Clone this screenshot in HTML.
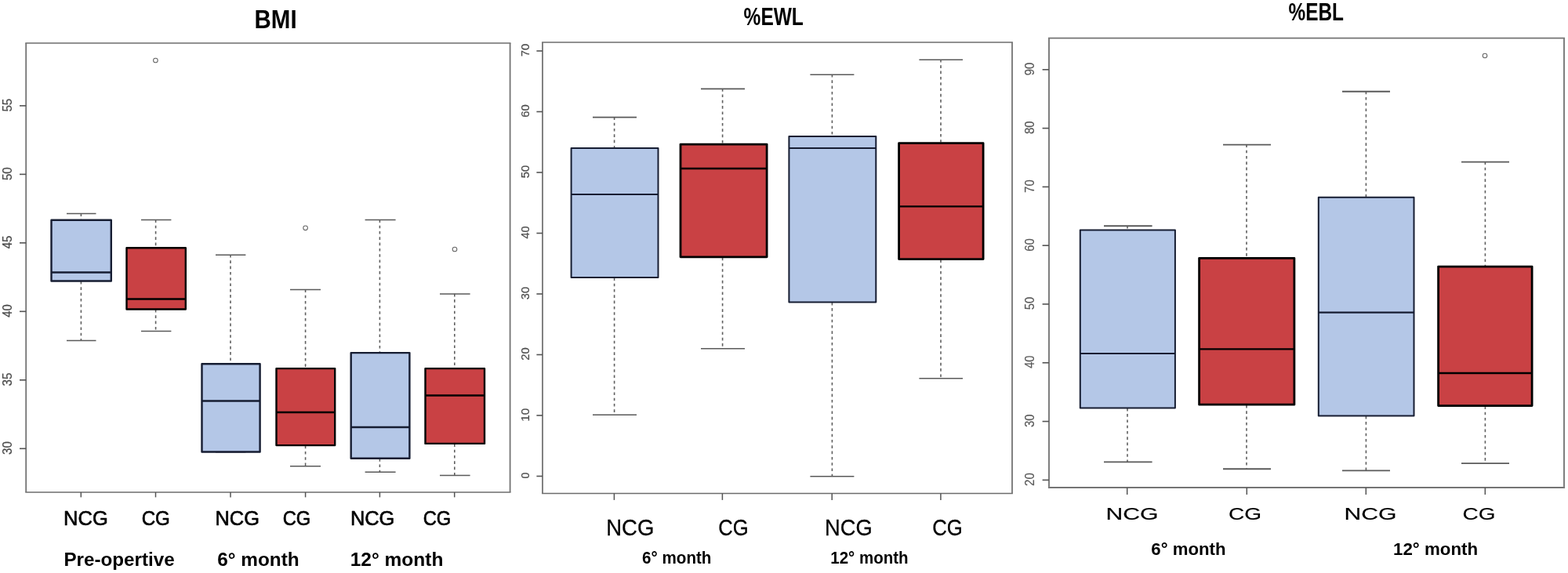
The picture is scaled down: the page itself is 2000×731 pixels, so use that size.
<!DOCTYPE html>
<html lang="en">
<head>
<meta charset="utf-8">
<title>BMI, %EWL and %EBL box plots</title>
<style>
html,body{margin:0;padding:0;background:#fff;}
body{width:2000px;height:731px;overflow:hidden;}
svg{display:block;font-family:"Liberation Sans",sans-serif;filter:blur(0.45px);}
</style>
</head>
<body>
<svg width="2000" height="731" viewBox="0 0 2000 731">
<rect width="2000" height="731" fill="#fff"/>
<line x1="32.30" y1="55.00" x2="651.50" y2="55.00" stroke="#6c6c6c" stroke-width="1.6"/>
<line x1="32.30" y1="628.00" x2="651.50" y2="628.00" stroke="#6c6c6c" stroke-width="1.6"/>
<line x1="33.20" y1="55.00" x2="33.20" y2="628.00" stroke="#747474" stroke-width="1.8"/>
<line x1="650.60" y1="55.00" x2="650.60" y2="628.00" stroke="#747474" stroke-width="1.8"/>
<line x1="25" y1="134.90" x2="33.2" y2="134.90" stroke="#545454" stroke-width="1.6"/>
<text transform="translate(15.00 134.20) rotate(-90) translate(-8.40 0) scale(1.0807 1.1200)" font-size="14" fill="#4a4a4a" stroke="#4a4a4a" stroke-width="0.2">55</text>
<line x1="25" y1="222.38" x2="33.2" y2="222.38" stroke="#545454" stroke-width="1.6"/>
<text transform="translate(15.00 221.68) rotate(-90) translate(-8.39 0) scale(1.0756 1.1200)" font-size="14" fill="#4a4a4a" stroke="#4a4a4a" stroke-width="0.2">50</text>
<line x1="25" y1="309.86" x2="33.2" y2="309.86" stroke="#545454" stroke-width="1.6"/>
<text transform="translate(15.00 309.16) rotate(-90) translate(-8.09 0) scale(1.0604 1.1200)" font-size="14" fill="#4a4a4a" stroke="#4a4a4a" stroke-width="0.2">45</text>
<line x1="25" y1="397.34" x2="33.2" y2="397.34" stroke="#545454" stroke-width="1.6"/>
<text transform="translate(15.00 396.64) rotate(-90) translate(-8.09 0) scale(1.0554 1.1200)" font-size="14" fill="#4a4a4a" stroke="#4a4a4a" stroke-width="0.2">40</text>
<line x1="25" y1="484.82" x2="33.2" y2="484.82" stroke="#545454" stroke-width="1.6"/>
<text transform="translate(15.00 484.12) rotate(-90) translate(-8.40 0) scale(1.0807 1.1200)" font-size="14" fill="#4a4a4a" stroke="#4a4a4a" stroke-width="0.2">35</text>
<line x1="25" y1="572.30" x2="33.2" y2="572.30" stroke="#545454" stroke-width="1.6"/>
<text transform="translate(15.00 571.60) rotate(-90) translate(-8.39 0) scale(1.0756 1.1200)" font-size="14" fill="#4a4a4a" stroke="#4a4a4a" stroke-width="0.2">30</text>
<line x1="103.30" y1="628" x2="103.30" y2="634.40" stroke="#545454" stroke-width="1.5"/>
<line x1="198.50" y1="628" x2="198.50" y2="634.40" stroke="#545454" stroke-width="1.5"/>
<line x1="294.00" y1="628" x2="294.00" y2="634.40" stroke="#545454" stroke-width="1.5"/>
<line x1="389.60" y1="628" x2="389.60" y2="634.40" stroke="#545454" stroke-width="1.5"/>
<line x1="484.40" y1="628" x2="484.40" y2="634.40" stroke="#545454" stroke-width="1.5"/>
<line x1="579.70" y1="628" x2="579.70" y2="634.40" stroke="#545454" stroke-width="1.5"/>
<line x1="103.4" y1="272.40" x2="103.4" y2="280.00" stroke="#606060" stroke-width="1.6" stroke-dasharray="3.6 3.7"/>
<line x1="103.4" y1="359.00" x2="103.4" y2="434.40" stroke="#606060" stroke-width="1.6" stroke-dasharray="3.6 3.7"/>
<line x1="85" y1="272.60" x2="122.5" y2="272.60" stroke="#5a5a5a" stroke-width="1.5"/>
<line x1="85" y1="434.60" x2="122.5" y2="434.60" stroke="#5a5a5a" stroke-width="1.5"/>
<rect x="65.50" y="280.70" width="76.30" height="77.80" fill="#b4c7e7" stroke="#161d32" stroke-width="2.4" stroke-linejoin="round"/>
<line x1="65.50" y1="347.60" x2="141.80" y2="347.60" stroke="#161d32" stroke-width="2.5"/>
<line x1="198.6" y1="280.40" x2="198.6" y2="315.60" stroke="#606060" stroke-width="1.6" stroke-dasharray="3.6 3.7"/>
<line x1="198.6" y1="395.00" x2="198.6" y2="422.40" stroke="#606060" stroke-width="1.6" stroke-dasharray="3.6 3.7"/>
<line x1="180" y1="280.60" x2="218.4" y2="280.60" stroke="#5a5a5a" stroke-width="1.5"/>
<line x1="180" y1="422.60" x2="218.4" y2="422.60" stroke="#5a5a5a" stroke-width="1.5"/>
<rect x="161.50" y="316.30" width="75.30" height="78.20" fill="#c94144" stroke="#000" stroke-width="2.4" stroke-linejoin="round"/>
<line x1="161.50" y1="381.60" x2="236.80" y2="381.60" stroke="#000" stroke-width="2.5"/>
<circle cx="198.4" cy="77" r="2.8" fill="#fff" stroke="#686868" stroke-width="1.1"/>
<line x1="294" y1="325.00" x2="294" y2="463.60" stroke="#606060" stroke-width="1.6" stroke-dasharray="3.6 3.7"/>
<line x1="294" y1="577.00" x2="294" y2="576.60" stroke="#606060" stroke-width="1.6" stroke-dasharray="3.6 3.7"/>
<line x1="275" y1="325.20" x2="313.4" y2="325.20" stroke="#5a5a5a" stroke-width="1.5"/>
<line x1="275" y1="576.80" x2="313.4" y2="576.80" stroke="#5a5a5a" stroke-width="1.5"/>
<rect x="257.50" y="464.30" width="74.10" height="112.20" fill="#b4c7e7" stroke="#161d32" stroke-width="2.4" stroke-linejoin="round"/>
<line x1="257.50" y1="511.40" x2="331.60" y2="511.40" stroke="#161d32" stroke-width="2.5"/>
<line x1="389.6" y1="369.40" x2="389.6" y2="469.40" stroke="#606060" stroke-width="1.6" stroke-dasharray="3.6 3.7"/>
<line x1="389.6" y1="568.60" x2="389.6" y2="594.60" stroke="#606060" stroke-width="1.6" stroke-dasharray="3.6 3.7"/>
<line x1="370" y1="369.60" x2="409" y2="369.60" stroke="#5a5a5a" stroke-width="1.5"/>
<line x1="370" y1="594.80" x2="409" y2="594.80" stroke="#5a5a5a" stroke-width="1.5"/>
<rect x="352.50" y="470.10" width="74.70" height="98.00" fill="#c94144" stroke="#000" stroke-width="2.4" stroke-linejoin="round"/>
<line x1="352.50" y1="526.00" x2="427.20" y2="526.00" stroke="#000" stroke-width="2.5"/>
<circle cx="389.6" cy="290.8" r="2.8" fill="#fff" stroke="#686868" stroke-width="1.1"/>
<line x1="484.4" y1="280.40" x2="484.4" y2="449.40" stroke="#606060" stroke-width="1.6" stroke-dasharray="3.6 3.7"/>
<line x1="484.4" y1="585.20" x2="484.4" y2="602.00" stroke="#606060" stroke-width="1.6" stroke-dasharray="3.6 3.7"/>
<line x1="465.6" y1="280.60" x2="504.6" y2="280.60" stroke="#5a5a5a" stroke-width="1.5"/>
<line x1="465.6" y1="602.20" x2="504.6" y2="602.20" stroke="#5a5a5a" stroke-width="1.5"/>
<rect x="447.70" y="450.10" width="74.70" height="134.60" fill="#b4c7e7" stroke="#161d32" stroke-width="2.4" stroke-linejoin="round"/>
<line x1="447.70" y1="545.00" x2="522.40" y2="545.00" stroke="#161d32" stroke-width="2.5"/>
<line x1="579.8" y1="374.80" x2="579.8" y2="469.40" stroke="#606060" stroke-width="1.6" stroke-dasharray="3.6 3.7"/>
<line x1="579.8" y1="566.40" x2="579.8" y2="606.40" stroke="#606060" stroke-width="1.6" stroke-dasharray="3.6 3.7"/>
<line x1="561" y1="375.00" x2="599.6" y2="375.00" stroke="#5a5a5a" stroke-width="1.5"/>
<line x1="561" y1="606.60" x2="599.6" y2="606.60" stroke="#5a5a5a" stroke-width="1.5"/>
<rect x="542.50" y="470.10" width="75.50" height="95.80" fill="#c94144" stroke="#000" stroke-width="2.4" stroke-linejoin="round"/>
<line x1="542.50" y1="504.60" x2="618.00" y2="504.60" stroke="#000" stroke-width="2.5"/>
<circle cx="580" cy="318" r="2.8" fill="#fff" stroke="#686868" stroke-width="1.1"/>
<line x1="691.10" y1="54.00" x2="1291.90" y2="54.00" stroke="#6c6c6c" stroke-width="1.6"/>
<line x1="691.10" y1="629.50" x2="1291.90" y2="629.50" stroke="#6c6c6c" stroke-width="1.6"/>
<line x1="692.00" y1="54.00" x2="692.00" y2="629.50" stroke="#747474" stroke-width="1.8"/>
<line x1="1291.00" y1="54.00" x2="1291.00" y2="629.50" stroke="#747474" stroke-width="1.8"/>
<line x1="684.4" y1="65.00" x2="692" y2="65.00" stroke="#545454" stroke-width="1.6"/>
<text transform="translate(674.50 64.00) rotate(-90) translate(-8.34 0) scale(1.0584 1.0700)" font-size="14" fill="#4e4e4e" stroke="#4e4e4e" stroke-width="0.2">70</text>
<line x1="684.4" y1="142.50" x2="692" y2="142.50" stroke="#545454" stroke-width="1.6"/>
<text transform="translate(674.50 141.50) rotate(-90) translate(-8.34 0) scale(1.0584 1.0700)" font-size="14" fill="#4e4e4e" stroke="#4e4e4e" stroke-width="0.2">60</text>
<line x1="684.4" y1="220.00" x2="692" y2="220.00" stroke="#545454" stroke-width="1.6"/>
<text transform="translate(674.50 219.00) rotate(-90) translate(-8.18 0) scale(1.0483 1.0700)" font-size="14" fill="#4e4e4e" stroke="#4e4e4e" stroke-width="0.2">50</text>
<line x1="684.4" y1="297.50" x2="692" y2="297.50" stroke="#545454" stroke-width="1.6"/>
<text transform="translate(674.50 296.50) rotate(-90) translate(-7.89 0) scale(1.0287 1.0700)" font-size="14" fill="#4e4e4e" stroke="#4e4e4e" stroke-width="0.2">40</text>
<line x1="684.4" y1="375.00" x2="692" y2="375.00" stroke="#545454" stroke-width="1.6"/>
<text transform="translate(674.50 374.00) rotate(-90) translate(-8.18 0) scale(1.0483 1.0700)" font-size="14" fill="#4e4e4e" stroke="#4e4e4e" stroke-width="0.2">30</text>
<line x1="684.4" y1="452.50" x2="692" y2="452.50" stroke="#545454" stroke-width="1.6"/>
<text transform="translate(674.50 451.50) rotate(-90) translate(-8.34 0) scale(1.0584 1.0700)" font-size="14" fill="#4e4e4e" stroke="#4e4e4e" stroke-width="0.2">20</text>
<line x1="684.4" y1="530.00" x2="692" y2="530.00" stroke="#545454" stroke-width="1.6"/>
<text transform="translate(674.50 529.00) rotate(-90) translate(-8.73 0) scale(1.0845 1.0700)" font-size="14" fill="#4e4e4e" stroke="#4e4e4e" stroke-width="0.2">10</text>
<line x1="684.4" y1="607.50" x2="692" y2="607.50" stroke="#545454" stroke-width="1.6"/>
<text transform="translate(674.50 606.50) rotate(-90) translate(-3.91 0) scale(0.9971 1.0700)" font-size="14" fill="#4e4e4e" stroke="#4e4e4e" stroke-width="0.2">0</text>
<line x1="783.40" y1="629.5" x2="783.40" y2="637.90" stroke="#545454" stroke-width="1.5"/>
<line x1="921.40" y1="629.5" x2="921.40" y2="637.90" stroke="#545454" stroke-width="1.5"/>
<line x1="1061.20" y1="629.5" x2="1061.20" y2="637.90" stroke="#545454" stroke-width="1.5"/>
<line x1="1199.90" y1="629.5" x2="1199.90" y2="637.90" stroke="#545454" stroke-width="1.5"/>
<line x1="783.6" y1="149.40" x2="783.6" y2="188.40" stroke="#606060" stroke-width="1.6" stroke-dasharray="3.6 3.7"/>
<line x1="783.6" y1="354.40" x2="783.6" y2="529.00" stroke="#606060" stroke-width="1.6" stroke-dasharray="3.6 3.7"/>
<line x1="756" y1="149.60" x2="812" y2="149.60" stroke="#5a5a5a" stroke-width="1.6"/>
<line x1="756" y1="529.20" x2="812" y2="529.20" stroke="#5a5a5a" stroke-width="1.6"/>
<rect x="728.60" y="189.10" width="110.90" height="164.90" fill="#b4c7e7" stroke="#161d32" stroke-width="2.0" stroke-linejoin="round"/>
<line x1="728.60" y1="248.00" x2="839.50" y2="248.00" stroke="#161d32" stroke-width="2.1"/>
<line x1="921.6" y1="113.20" x2="921.6" y2="183.00" stroke="#606060" stroke-width="1.6" stroke-dasharray="3.6 3.7"/>
<line x1="921.6" y1="328.60" x2="921.6" y2="444.60" stroke="#606060" stroke-width="1.6" stroke-dasharray="3.6 3.7"/>
<line x1="894" y1="113.40" x2="950" y2="113.40" stroke="#5a5a5a" stroke-width="1.6"/>
<line x1="894" y1="444.80" x2="950" y2="444.80" stroke="#5a5a5a" stroke-width="1.6"/>
<rect x="868.00" y="184.10" width="110.10" height="143.70" fill="#c94144" stroke="#000" stroke-width="2.8" stroke-linejoin="round"/>
<line x1="868.00" y1="215.00" x2="978.10" y2="215.00" stroke="#000" stroke-width="2.4"/>
<line x1="1061.4" y1="95.00" x2="1061.4" y2="173.40" stroke="#606060" stroke-width="1.6" stroke-dasharray="3.6 3.7"/>
<line x1="1061.4" y1="385.80" x2="1061.4" y2="607.50" stroke="#606060" stroke-width="1.6" stroke-dasharray="3.6 3.7"/>
<line x1="1033.4" y1="95.20" x2="1089.4" y2="95.20" stroke="#5a5a5a" stroke-width="1.6"/>
<line x1="1033.4" y1="607.70" x2="1089.4" y2="607.70" stroke="#5a5a5a" stroke-width="1.6"/>
<rect x="1006.40" y="174.10" width="110.90" height="211.30" fill="#b4c7e7" stroke="#161d32" stroke-width="2.0" stroke-linejoin="round"/>
<line x1="1006.40" y1="189.00" x2="1117.30" y2="189.00" stroke="#161d32" stroke-width="2.1"/>
<line x1="1200" y1="76.00" x2="1200" y2="181.60" stroke="#606060" stroke-width="1.6" stroke-dasharray="3.6 3.7"/>
<line x1="1200" y1="331.40" x2="1200" y2="482.60" stroke="#606060" stroke-width="1.6" stroke-dasharray="3.6 3.7"/>
<line x1="1172.4" y1="76.20" x2="1228" y2="76.20" stroke="#5a5a5a" stroke-width="1.6"/>
<line x1="1172.4" y1="482.80" x2="1228" y2="482.80" stroke="#5a5a5a" stroke-width="1.6"/>
<rect x="1146.60" y="182.70" width="107.50" height="147.90" fill="#c94144" stroke="#000" stroke-width="2.8" stroke-linejoin="round"/>
<line x1="1146.60" y1="263.40" x2="1254.10" y2="263.40" stroke="#000" stroke-width="2.4"/>
<line x1="1336.95" y1="48.60" x2="1996.05" y2="48.60" stroke="#747474" stroke-width="1.8"/>
<line x1="1336.95" y1="622.00" x2="1996.05" y2="622.00" stroke="#747474" stroke-width="1.8"/>
<line x1="1338.00" y1="48.60" x2="1338.00" y2="622.00" stroke="#808080" stroke-width="2.1"/>
<line x1="1995.00" y1="48.60" x2="1995.00" y2="622.00" stroke="#808080" stroke-width="2.1"/>
<line x1="1329.6" y1="88.80" x2="1338" y2="88.80" stroke="#545454" stroke-width="1.6"/>
<text transform="translate(1319.30 87.90) rotate(-90) translate(-8.34 0) scale(1.0638 1.2362)" font-size="14" fill="#5a5a5a" stroke="#5a5a5a" stroke-width="0.15">90</text>
<line x1="1329.6" y1="163.60" x2="1338" y2="163.60" stroke="#545454" stroke-width="1.6"/>
<text transform="translate(1319.30 162.70) rotate(-90) translate(-8.34 0) scale(1.0638 1.2362)" font-size="14" fill="#5a5a5a" stroke="#5a5a5a" stroke-width="0.15">80</text>
<line x1="1329.6" y1="238.40" x2="1338" y2="238.40" stroke="#545454" stroke-width="1.6"/>
<text transform="translate(1319.30 237.50) rotate(-90) translate(-8.42 0) scale(1.0690 1.2362)" font-size="14" fill="#5a5a5a" stroke="#5a5a5a" stroke-width="0.15">70</text>
<line x1="1329.6" y1="313.20" x2="1338" y2="313.20" stroke="#545454" stroke-width="1.6"/>
<text transform="translate(1319.30 312.30) rotate(-90) translate(-8.42 0) scale(1.0690 1.2362)" font-size="14" fill="#5a5a5a" stroke="#5a5a5a" stroke-width="0.15">60</text>
<line x1="1329.6" y1="388.00" x2="1338" y2="388.00" stroke="#545454" stroke-width="1.6"/>
<text transform="translate(1319.30 387.10) rotate(-90) translate(-8.26 0) scale(1.0587 1.2362)" font-size="14" fill="#5a5a5a" stroke="#5a5a5a" stroke-width="0.15">50</text>
<line x1="1329.6" y1="462.80" x2="1338" y2="462.80" stroke="#545454" stroke-width="1.6"/>
<text transform="translate(1319.30 461.90) rotate(-90) translate(-7.96 0) scale(1.0389 1.2362)" font-size="14" fill="#5a5a5a" stroke="#5a5a5a" stroke-width="0.15">40</text>
<line x1="1329.6" y1="537.60" x2="1338" y2="537.60" stroke="#545454" stroke-width="1.6"/>
<text transform="translate(1319.30 536.70) rotate(-90) translate(-8.26 0) scale(1.0587 1.2362)" font-size="14" fill="#5a5a5a" stroke="#5a5a5a" stroke-width="0.15">30</text>
<line x1="1329.6" y1="612.40" x2="1338" y2="612.40" stroke="#545454" stroke-width="1.6"/>
<text transform="translate(1319.30 611.50) rotate(-90) translate(-8.42 0) scale(1.0690 1.2362)" font-size="14" fill="#5a5a5a" stroke="#5a5a5a" stroke-width="0.15">20</text>
<line x1="1437.70" y1="622" x2="1437.70" y2="631.00" stroke="#545454" stroke-width="1.5"/>
<line x1="1590.30" y1="622" x2="1590.30" y2="631.00" stroke="#545454" stroke-width="1.5"/>
<line x1="1742.30" y1="622" x2="1742.30" y2="631.00" stroke="#545454" stroke-width="1.5"/>
<line x1="1894.30" y1="622" x2="1894.30" y2="631.00" stroke="#545454" stroke-width="1.5"/>
<line x1="1438" y1="288.00" x2="1438" y2="292.80" stroke="#606060" stroke-width="1.6" stroke-dasharray="3.6 3.7"/>
<line x1="1438" y1="520.80" x2="1438" y2="589.20" stroke="#606060" stroke-width="1.6" stroke-dasharray="3.6 3.7"/>
<line x1="1408" y1="288.20" x2="1469.6" y2="288.20" stroke="#5a5a5a" stroke-width="1.9"/>
<line x1="1408" y1="589.40" x2="1469.6" y2="589.40" stroke="#5a5a5a" stroke-width="1.9"/>
<rect x="1377.80" y="293.50" width="121.10" height="226.90" fill="#b4c7e7" stroke="#161d32" stroke-width="2.0" stroke-linejoin="round"/>
<line x1="1377.80" y1="451.00" x2="1498.90" y2="451.00" stroke="#161d32" stroke-width="2.1"/>
<line x1="1590" y1="184.40" x2="1590" y2="328.20" stroke="#606060" stroke-width="1.6" stroke-dasharray="3.6 3.7"/>
<line x1="1590" y1="517.00" x2="1590" y2="598.10" stroke="#606060" stroke-width="1.6" stroke-dasharray="3.6 3.7"/>
<line x1="1560" y1="184.60" x2="1621" y2="184.60" stroke="#5a5a5a" stroke-width="1.9"/>
<line x1="1560" y1="598.30" x2="1621" y2="598.30" stroke="#5a5a5a" stroke-width="1.9"/>
<rect x="1529.60" y="329.30" width="121.30" height="186.90" fill="#c94144" stroke="#000" stroke-width="2.8" stroke-linejoin="round"/>
<line x1="1529.60" y1="445.40" x2="1650.90" y2="445.40" stroke="#000" stroke-width="2.4"/>
<line x1="1742.4" y1="116.60" x2="1742.4" y2="251.00" stroke="#606060" stroke-width="1.6" stroke-dasharray="3.6 3.7"/>
<line x1="1742.4" y1="530.80" x2="1742.4" y2="600.20" stroke="#606060" stroke-width="1.6" stroke-dasharray="3.6 3.7"/>
<line x1="1712" y1="116.80" x2="1773" y2="116.80" stroke="#5a5a5a" stroke-width="1.9"/>
<line x1="1712" y1="600.40" x2="1773" y2="600.40" stroke="#5a5a5a" stroke-width="1.9"/>
<rect x="1681.80" y="251.70" width="121.70" height="278.70" fill="#b4c7e7" stroke="#161d32" stroke-width="2.0" stroke-linejoin="round"/>
<line x1="1681.80" y1="398.60" x2="1803.50" y2="398.60" stroke="#161d32" stroke-width="2.1"/>
<line x1="1894.4" y1="206.40" x2="1894.4" y2="339.00" stroke="#606060" stroke-width="1.6" stroke-dasharray="3.6 3.7"/>
<line x1="1894.4" y1="518.40" x2="1894.4" y2="590.90" stroke="#606060" stroke-width="1.6" stroke-dasharray="3.6 3.7"/>
<line x1="1864" y1="206.60" x2="1925" y2="206.60" stroke="#5a5a5a" stroke-width="1.9"/>
<line x1="1864" y1="591.10" x2="1925" y2="591.10" stroke="#5a5a5a" stroke-width="1.9"/>
<rect x="1834.60" y="340.10" width="119.50" height="177.50" fill="#c94144" stroke="#000" stroke-width="2.8" stroke-linejoin="round"/>
<line x1="1834.60" y1="476.00" x2="1954.10" y2="476.00" stroke="#000" stroke-width="2.4"/>
<circle cx="1894" cy="71" r="2.8" fill="#fff" stroke="#686868" stroke-width="1.1"/>
<text transform="translate(324.48 35.90) scale(1.4765 1.6522)" font-size="20" font-weight="bold" fill="#000">BMI</text>
<text transform="translate(948.59 31.60) scale(1.2259 1.5435)" font-size="20" font-weight="bold" fill="#000">%EWL</text>
<text transform="translate(1643.49 25.80) scale(1.2205 1.5290)" font-size="20" font-weight="bold" fill="#000">%EBL</text>
<text transform="translate(81.08 670.08) scale(1.2745 1.2727)" font-size="20" font-weight="normal" fill="#000" stroke="#000" stroke-width="0.5" stroke-linejoin="round">NCG</text>
<text transform="translate(180.69 670.08) scale(1.2071 1.2727)" font-size="20" font-weight="normal" fill="#000" stroke="#000" stroke-width="0.5" stroke-linejoin="round">CG</text>
<text transform="translate(274.49 670.08) scale(1.2697 1.2727)" font-size="20" font-weight="normal" fill="#000" stroke="#000" stroke-width="0.5" stroke-linejoin="round">NCG</text>
<text transform="translate(360.71 670.08) scale(1.1857 1.2727)" font-size="20" font-weight="normal" fill="#000" stroke="#000" stroke-width="0.5" stroke-linejoin="round">CG</text>
<text transform="translate(446.89 670.08) scale(1.2697 1.2727)" font-size="20" font-weight="normal" fill="#000" stroke="#000" stroke-width="0.5" stroke-linejoin="round">NCG</text>
<text transform="translate(539.71 670.08) scale(1.1857 1.2727)" font-size="20" font-weight="normal" fill="#000" stroke="#000" stroke-width="0.5" stroke-linejoin="round">CG</text>
<text transform="translate(81.43 722.10) scale(1.2110 1.1739)" font-size="20" font-weight="bold" fill="#000">Pre-opertive</text>
<text transform="translate(277.25 722.10) scale(1.2181 1.1739)" font-size="20" font-weight="bold" fill="#000">6° month</text>
<text transform="translate(446.63 722.10) scale(1.2275 1.1739)" font-size="20" font-weight="bold" fill="#000">12° month</text>
<text transform="translate(773.23 682.85) scale(1.3774 1.5071)" font-size="20" font-weight="normal" fill="#000" stroke="#000" stroke-width="0.2" stroke-linejoin="round">NCG</text>
<text transform="translate(916.15 682.85) scale(1.2816 1.5071)" font-size="20" font-weight="normal" fill="#000" stroke="#000" stroke-width="0.2" stroke-linejoin="round">CG</text>
<text transform="translate(1051.95 682.85) scale(1.3654 1.5071)" font-size="20" font-weight="normal" fill="#000" stroke="#000" stroke-width="0.2" stroke-linejoin="round">NCG</text>
<text transform="translate(1189.24 682.85) scale(1.2888 1.5071)" font-size="20" font-weight="normal" fill="#000" stroke="#000" stroke-width="0.2" stroke-linejoin="round">CG</text>
<text transform="translate(818.98 718.70) scale(1.0322 1.1159)" font-size="20" font-weight="bold" fill="#000">6° month</text>
<text transform="translate(1059.27 718.70) scale(1.0254 1.1159)" font-size="20" font-weight="bold" fill="#000">12° month</text>
<text transform="translate(1410.40 662.62) scale(1.5090 1.1254)" font-size="20" font-weight="normal" fill="#000" stroke="#000" stroke-width="0.15" stroke-linejoin="round">NCG</text>
<text transform="translate(1567.00 662.62) scale(1.4033 1.1254)" font-size="20" font-weight="normal" fill="#000" stroke="#000" stroke-width="0.15" stroke-linejoin="round">CG</text>
<text transform="translate(1714.60 662.62) scale(1.5066 1.1254)" font-size="20" font-weight="normal" fill="#000" stroke="#000" stroke-width="0.15" stroke-linejoin="round">NCG</text>
<text transform="translate(1865.51 662.62) scale(1.3960 1.1254)" font-size="20" font-weight="normal" fill="#000" stroke="#000" stroke-width="0.15" stroke-linejoin="round">CG</text>
<text transform="translate(1468.32 707.50) scale(1.1097 1.1014)" font-size="20" font-weight="bold" fill="#000">6° month</text>
<text transform="translate(1776.96 707.50) scale(1.1175 1.1014)" font-size="20" font-weight="bold" fill="#000">12° month</text>
</svg>
</body>
</html>
